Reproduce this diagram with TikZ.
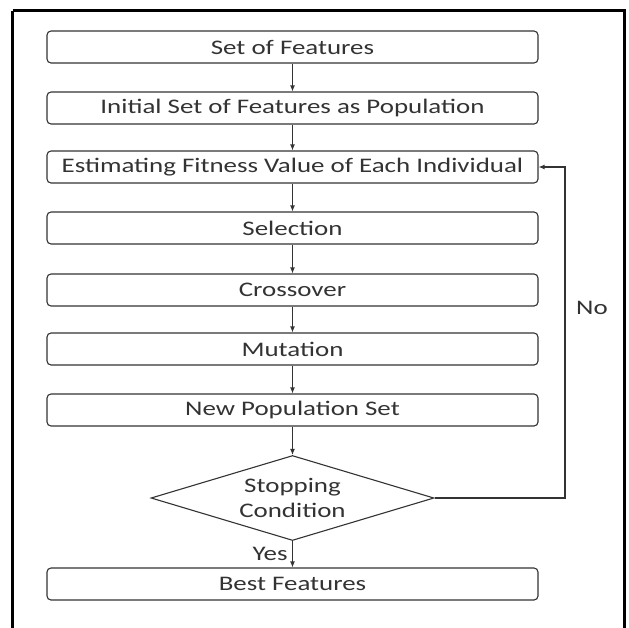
\documentclass[tikz,border=0pt]{standalone}
\usepackage{fontspec}
\setmainfont[FakeStretch=1.3]{Carlito}
\usetikzlibrary{shapes.geometric,arrows.meta}
\definecolor{ink}{HTML}{333333}
\begin{document}
\begin{tikzpicture}[x=1pt,y=-1pt,
  stepbox/.style={draw=ink,line width=1.1pt,rounded corners=4pt,minimum width=491pt,minimum height=32pt,inner sep=0pt,font=\fontsize{20.7}{24}\selectfont,text=ink},
  decision/.style={draw=ink,line width=1.1pt,diamond,aspect=3.33,minimum width=283pt,minimum height=85pt,inner sep=0pt,font=\fontsize{20.7}{25}\selectfont,text=ink,align=center},
  conn/.style={draw=ink,line width=1.1pt,-{Latex[length=6pt,width=5pt]}},
  lbl/.style={font=\fontsize{20.7}{24}\selectfont,text=ink}]
\useasboundingbox (0,0) rectangle (629,627);
\fill[white] (0,0) rectangle (629,627);
\draw[line width=2.4pt,black] (12.5,10.5) -- (624.5,10.5) -- (624.5,640) (12.5,10.5) -- (12.5,640);
\node[stepbox] (b1) at (292.5,47) {Set of Features};
\node[stepbox] (b2) at (292.5,108) {Initial Set of Features as Population};
\node[stepbox] (b3) at (292.5,167) {Estimating Fitness Value of Each Individual};
\node[stepbox] (b4) at (292.5,228) {Selection};
\node[stepbox] (b5) at (292.5,290) {Crossover};
\node[stepbox] (b6) at (292.5,349) {Mutation};
\node[stepbox] (b7) at (292.5,410) {New Population Set};
\node[decision] (d) at (292.5,498) {Stopping\\Condition};
\node[stepbox] (b8) at (292.5,584) {Best Features};
\coordinate (r) at (565,498);
\draw[conn] (b1) -- (b2);
\draw[conn] (b2) -- (b3);
\draw[conn] (b3) -- (b4);
\draw[conn] (b4) -- (b5);
\draw[conn] (b5) -- (b6);
\draw[conn] (b6) -- (b7);
\draw[conn] (b7) -- (d);
\draw[conn] (d) -- node[lbl,left=1pt] (yes) {Yes} (b8);
\draw[conn] (d.east) -- (r) |- (b3.east);
\node[lbl] (no) at (592,308) {No};
\end{tikzpicture}
\end{document}
